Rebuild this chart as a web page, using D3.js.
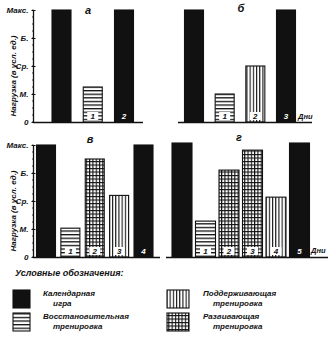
<!DOCTYPE html>
<html>
<head>
<meta charset="utf-8">
<script src="https://cdn.jsdelivr.net/npm/d3@7"></script>
<style>
  html, body { margin: 0; padding: 0; background: #fff; }
  svg { display: block; }
  text { font-family: "Liberation Sans", "DejaVu Sans", sans-serif; font-style: italic; font-weight: bold; fill: #111; }
</style>
</head>
<body>
<svg id="chart" width="330" height="341"></svg>
<script>
// Load levels (conventional units)
const levelLabels = ["0", "М.", "Ср.", "Б.", "Макс."];
const levelValues = [0, 1, 2, 3, 4];

// Training types
const typeNames = ["Календарная игра", "Восстановительная тренировка", "Поддерживающая тренировка", "Развивающая тренировка"];

// Micro-cycle а
const daysA = ["", "1", "2"];
const loadA = [4, 1.25, 4];
const typeA = ["game", "recovery", "game"];

// Micro-cycle б
const daysB = ["", "1", "2", "3"];
const loadB = [4, 1.0, 2.0, 4];
const typeB = ["game", "recovery", "support", "game"];

// Micro-cycle в
const daysC = ["", "1", "2", "3", "4"];
const loadC = [4, 1.03, 3.5, 2.2, 4];
const typeC = ["game", "recovery", "develop", "support", "game"];

// Micro-cycle г
const daysD = ["", "1", "2", "3", "4", "5"];
const loadD = [4, 1.26, 3.05, 3.75, 2.1, 4];
const typeD = ["game", "recovery", "develop", "develop", "support", "game"];

const svg = d3.select("#chart");
const defs = svg.append("defs");

// Hatch patterns
function pattern(id, w, h, draw) {
  const p = defs.append("pattern").attr("id", id)
    .attr("patternUnits", "userSpaceOnUse").attr("width", w).attr("height", h);
  p.append("rect").attr("width", w).attr("height", h).attr("fill", "#fff");
  draw(p);
}
pattern("hstripe", 4, 3.6, p => p.append("rect").attr("x", 0).attr("y", 0).attr("width", 4).attr("height", 1.3).attr("fill", "#111"));
pattern("vstripe", 3.2, 4, p => p.append("rect").attr("x", 0).attr("y", 0).attr("width", 1.1).attr("height", 4).attr("fill", "#111"));
pattern("grid", 3.3, 3.5, p => {
  p.append("rect").attr("x", 0).attr("y", 0).attr("width", 1.1).attr("height", 3.5).attr("fill", "#111");
  p.append("rect").attr("x", 0).attr("y", 0).attr("width", 3.3).attr("height", 1.1).attr("fill", "#111");
});

const fillOf = {
  game: "#111",
  recovery: "url(#hstripe)",
  support: "url(#vstripe)",
  develop: "url(#grid)"
};

function panel(cfg) {
  const g = svg.append("g");
  const y = d3.scaleLinear().domain([0, 4]).range([cfg.base, cfg.top]);
  const x = d3.scalePoint().domain(d3.range(cfg.loads.length)).range(cfg.centers);
  const bw = cfg.bw;

  // Bars
  g.selectAll("rect.bar").data(cfg.loads).join("rect")
    .attr("class", "bar")
    .attr("x", (d, i) => x(i) - bw / 2)
    .attr("y", d => y(d))
    .attr("width", bw)
    .attr("height", d => y(0) - y(d))
    .attr("fill", (d, i) => fillOf[cfg.types[i]])
    .attr("stroke", "#111").attr("stroke-width", 1.1);

  // Day numbers at the foot of bars
  cfg.days.forEach((lab, i) => {
    if (!lab) return;
    const cx = x(i);
    const isGame = cfg.types[i] === "game";
    if (!isGame) {
      g.append("rect").attr("x", cx - 5.5).attr("y", cfg.base - 10).attr("width", 11).attr("height", 8).attr("fill", "#fff");
    }
    g.append("text").attr("x", cx).attr("y", cfg.base - 3)
      .attr("text-anchor", "middle").attr("font-size", 8)
      .style("fill", isGame ? "#fff" : "#111")
      .text(lab);
  });

  // Baseline
  g.append("line").attr("x1", cfg.baseX[0]).attr("x2", cfg.baseX[1])
    .attr("y1", cfg.base + 0.5).attr("y2", cfg.base + 0.5)
    .attr("stroke", "#111").attr("stroke-width", 1.4);

  // Load axis
  if (cfg.axisX !== undefined) {
    const axis = d3.axisLeft(y).tickValues(levelValues)
      .tickFormat((d, i) => levelLabels[i]).tickSize(3).tickPadding(2);
    const ag = g.append("g").attr("transform", `translate(${cfg.axisX},0)`).call(axis);
    ag.select(".domain").attr("stroke", "#111").attr("stroke-width", 1.3).attr("d", `M0,${cfg.top}V${cfg.base}`);
    ag.selectAll(".tick line").attr("stroke", "#111").attr("x2", 2).attr("x1", -2);
    ag.selectAll(".tick text").attr("font-size", 8).style("font-family", "Liberation Sans, sans-serif")
      .style("font-style", "italic").style("font-weight", "bold").attr("fill", "#111");
    // minor ticks along the axis
    const minor = d3.range(0, 4.01, 0.25);
    ag.selectAll("line.minor").data(minor).join("line").attr("class", "minor")
      .attr("x1", -1.5).attr("x2", 0).attr("y1", d => y(d)).attr("y2", d => y(d))
      .attr("stroke", "#111").attr("stroke-width", 0.8);

    g.append("text")
      .attr("transform", `translate(${cfg.axisLabelX},${(cfg.base + cfg.top) / 2 + 10}) rotate(-90)`)
      .attr("text-anchor", "middle").attr("font-size", 8)
      .text("Нагрузка (в усл. ед.)");
  }

  // Panel letter
  g.append("text").attr("x", cfg.titleX).attr("y", cfg.titleY)
    .attr("text-anchor", "middle").attr("font-size", 11).text(cfg.title);

  if (cfg.daysLabel) {
    g.append("text").attr("x", cfg.daysLabel[0]).attr("y", cfg.daysLabel[1])
      .attr("font-size", 7.5).text("Дни");
  }
}

panel({ loads: loadA, types: typeA, days: daysA, base: 122, top: 10,
  centers: [61.5, 124], bw: 19, baseX: [33, 143], axisX: 33.5, axisLabelX: 16,
  title: "а", titleX: 88, titleY: 14 });
panel({ loads: loadB, types: typeB, days: daysB, base: 122, top: 10,
  centers: [194, 286], bw: 19, baseX: [178, 312],
  title: "б", titleX: 241, titleY: 12, daysLabel: [298, 119] });
panel({ loads: loadC, types: typeC, days: daysC, base: 257, top: 145,
  centers: [46, 143.5], bw: 19, baseX: [33, 160], axisX: 33.5, axisLabelX: 16,
  title: "в", titleX: 90, titleY: 143 });
panel({ loads: loadD, types: typeD, days: daysD, base: 257, top: 143,
  centers: [182, 299.5], bw: 20, baseX: [166, 328],
  title: "г", titleX: 239, titleY: 141, daysLabel: [311, 253] });

// Legend
const lg = svg.append("g");
lg.append("text").attr("x", 15).attr("y", 276).attr("font-size", 9).text("Условные обозначения:");
const legendItems = [
  { fill: fillOf.game, x: 13, y: 290, lines: ["Календарная", "игра"] },
  { fill: fillOf.recovery, x: 13, y: 313, lines: ["Восстановительная", "тренировка"] },
  { fill: fillOf.support, x: 167, y: 290, lines: ["Поддерживающая", "тренировка"] },
  { fill: fillOf.develop, x: 167, y: 313, lines: ["Развивающая", "тренировка"] }
];
legendItems.forEach((it, k) => {
  lg.append("rect").attr("x", it.x).attr("y", it.y).attr("width", it.x > 100 ? 22 : 17).attr("height", 18)
    .attr("fill", it.fill).attr("stroke", "#111").attr("stroke-width", 1.1);
  const tx = it.x + (it.x > 100 ? 36 : 30);
  lg.append("text").attr("x", tx).attr("y", it.y + 6).attr("font-size", 8).text(it.lines[0]);
  lg.append("text").attr("x", tx + 10).attr("y", it.y + 16).attr("font-size", 8).text(it.lines[1]);
});
</script>
</body>
</html>
